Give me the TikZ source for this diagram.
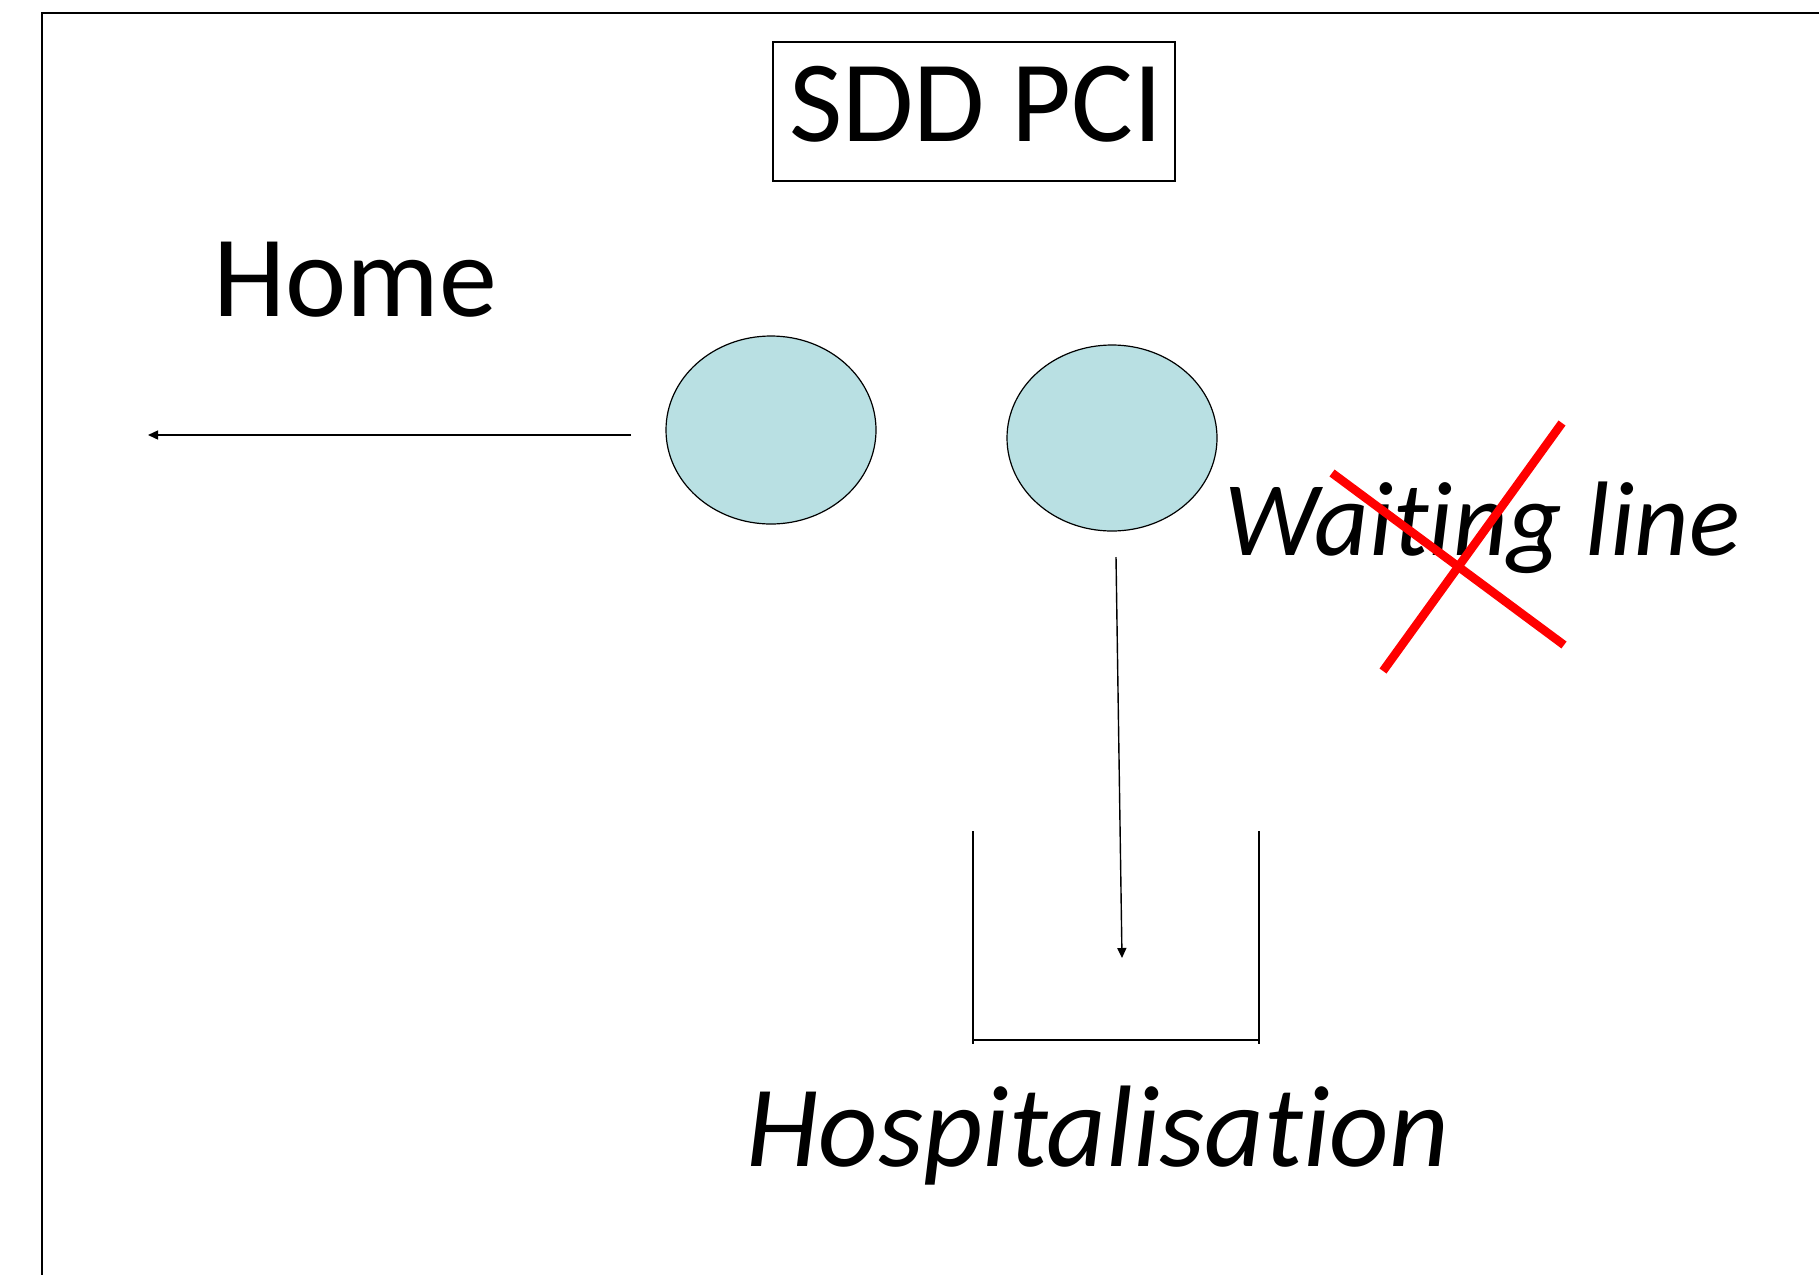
\documentclass[tikz,border=0pt]{standalone}
\usepackage{fontspec}
\setmainfont{Carlito}[Ligatures=NoCommon]
\usetikzlibrary{arrows.meta,shapes.geometric}
\definecolor{bub}{HTML}{B9E0E3}
\definecolor{xred}{HTML}{FF0000}
\tikzset{
  bubble/.style={draw=black,line width=0.6pt,fill=bub},
  conn/.style={draw=black,line width=0.7pt,-{Triangle[length=5pt,width=4.5pt]}},
  wall/.style={draw=black,line width=0.9pt},
  bigtxt/.style={inner sep=0pt,anchor=base west,font=\fontsize{58}{70}\selectfont},
  cross/.style={draw=xred,line width=4.3pt},
}
\begin{document}
\begin{tikzpicture}[x=0.5pt,y=-0.5pt]
\useasboundingbox (0,0) rectangle (1819,1274);
% frame
\draw[line width=1.3pt] (42,1290) -- (42,13) -- (1830,13);
% title
\node[draw,line width=0.7pt,minimum width=201pt,minimum height=69.5pt,inner sep=0pt] (title) at (974,111.5) {};
\node[bigtxt] (titletxt) at (789,141) {SDD PCI};
% Home
\node[bigtxt] (home) at (213,316) {Home};
% bubbles
\node[bubble,ellipse,minimum width=105pt,minimum height=94pt,inner sep=0pt] (b1) at (771,430) {};
\node[bubble,ellipse,minimum width=105pt,minimum height=93pt,inner sep=0pt] (b2) at (1112,438) {};
% arrow left
\coordinate (aL1) at (631,435);
\coordinate (aL2) at (148,435);
\draw[conn] (aL1) -- (aL2);
% arrow down
\coordinate (aD1) at (1116,557);
\coordinate (aD2) at (1122,958);
\draw[conn] (aD1) -- (aD2);
% bucket
\coordinate (bl) at (973,831);
\coordinate (br) at (1259,831);
\draw[wall] (bl) -- (973,1044);
\draw[wall] (br) -- (1259,1044);
\draw[wall] (973,1040) -- (1259,1040);
% texts
\node[bigtxt,font=\fontsize{58}{70}\selectfont\itshape] (hosp) at (746,1166) {Hospitalisation};
\node[bigtxt,font=\fontsize{53}{64}\selectfont\itshape] (wait) at (1224,555) {Waiting line};
% red cross
\draw[cross] (1332,473) -- (1564,645);
\draw[cross] (1562,423) -- (1383,671);
\end{tikzpicture}
\end{document}
